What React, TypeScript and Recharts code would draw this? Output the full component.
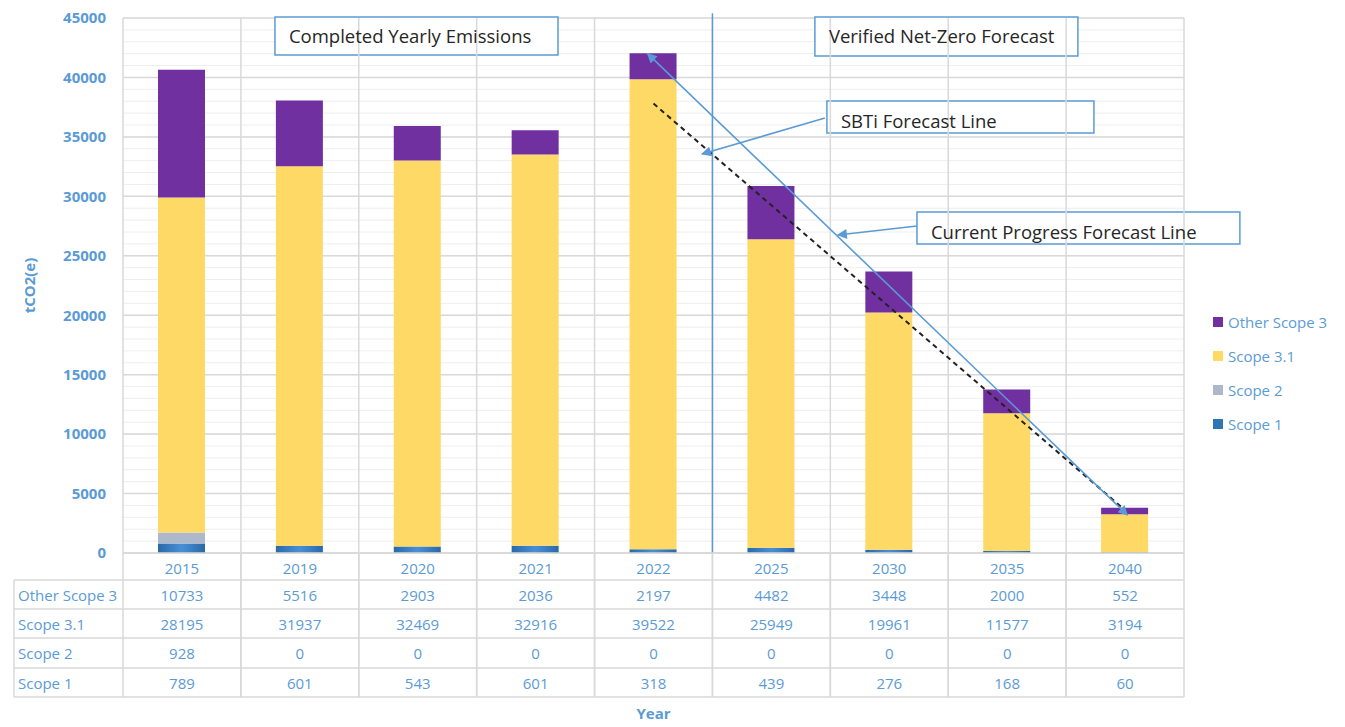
import React from 'react';
import {
  ComposedChart,
  Bar,
  XAxis,
  YAxis,
  CartesianGrid,
  ReferenceLine,
  ReferenceArea,
  Legend,
} from 'recharts';

// ---------- data ----------
const years = ['2015', '2019', '2020', '2021', '2022', '2025', '2030', '2035', '2040'];
const scope1 = [789, 601, 543, 601, 318, 439, 276, 168, 60];
const scope2 = [928, 0, 0, 0, 0, 0, 0, 0, 0];
const scope31 = [28195, 31937, 32469, 32916, 39522, 25949, 19961, 11577, 3194];
const otherScope3 = [10733, 5516, 2903, 2036, 2197, 4482, 3448, 2000, 552];
const yTicks = [0, 5000, 10000, 15000, 20000, 25000, 30000, 35000, 40000, 45000];
const minorTicks = Array.from({ length: 46 }, (_, i) => i * 1000);
const boundaries = [0, 1, 2, 3, 4, 5, 6, 7, 8, 9];

const seriesNames = ['Scope 1', 'Scope 2', 'Scope 3.1', 'Other Scope 3'];
const seriesKeys = ['s1', 's2', 's31', 'o3'];
const legendOrder = ['Other Scope 3', 'Scope 3.1', 'Scope 2', 'Scope 1'];
const tableRows = [
  { name: 'Other Scope 3', values: otherScope3 },
  { name: 'Scope 3.1', values: scope31 },
  { name: 'Scope 2', values: scope2 },
  { name: 'Scope 1', values: scope1 },
];

const data = years.map((y, i) => ({
  year: y,
  pos: i + 0.5,
  s1: scope1[i],
  s2: scope2[i],
  s31: scope31[i],
  o3: otherScope3[i],
}));

// ---------- styling ----------
const BLUE_TEXT = '#5b9bd5';
const GRID = '#d9d9d9';
const COLORS: Record<string, string> = {
  'Scope 1': '#2e75b6',
  'Scope 2': '#adb9ca',
  'Scope 3.1': '#ffd966',
  'Other Scope 3': '#7030a0',
};
const FILLS: Record<string, string> = {
  'Scope 1': 'url(#scope1Grad)',
  'Scope 2': '#adb9ca',
  'Scope 3.1': '#ffd966',
  'Other Scope 3': '#7030a0',
};

const CHART_W = 1330;
const CHART_H = 719;
const PLOT_LEFT = 115;
const PLOT_RIGHT = 1176;
const PLOT_BOTTOM = 545;
const COL_W = (PLOT_RIGHT - PLOT_LEFT) / years.length;
const TABLE_LEFT = 6;
const HEADER_BOTTOM = 572;
const ROW_LINES = [572, 601, 630, 660, 689];

const TableTick = (props: any) => {
  const { x, payload, index } = props;
  const left = x - COL_W / 2;
  const right = x + COL_W / 2;
  const i = years.indexOf(String(payload.value));
  return (
    <g>
      <line x1={left} y1={PLOT_BOTTOM} x2={left} y2={ROW_LINES[4]} stroke={GRID} strokeWidth={1.5} />
      <line x1={right} y1={PLOT_BOTTOM} x2={right} y2={ROW_LINES[4]} stroke={GRID} strokeWidth={1.5} />
      {ROW_LINES.map((ly) => (
        <line key={ly} x1={left} y1={ly} x2={right} y2={ly} stroke={GRID} strokeWidth={1.5} />
      ))}
      <text x={x} y={(PLOT_BOTTOM + HEADER_BOTTOM) / 2 + 1} textAnchor="middle" dominantBaseline="central" fill={BLUE_TEXT} fontSize={15}>
        {payload.value}
      </text>
      {tableRows.map((r, ri) => (
        <text
          key={r.name}
          x={x}
          y={(ROW_LINES[ri] + ROW_LINES[ri + 1]) / 2}
          textAnchor="middle"
          dominantBaseline="central"
          fill={BLUE_TEXT}
          fontSize={15}
        >
          {r.values[i]}
        </text>
      ))}
      {i === 0 && (
        <g>
          <line x1={TABLE_LEFT} y1={ROW_LINES[0]} x2={TABLE_LEFT} y2={ROW_LINES[4]} stroke={GRID} strokeWidth={1.5} />
          {ROW_LINES.map((ly) => (
            <line key={'l' + ly} x1={TABLE_LEFT} y1={ly} x2={left} y2={ly} stroke={GRID} strokeWidth={1.5} />
          ))}
          {tableRows.map((r, ri) => (
            <text
              key={'n' + r.name}
              x={TABLE_LEFT + 4}
              y={(ROW_LINES[ri] + ROW_LINES[ri + 1]) / 2}
              textAnchor="start"
              dominantBaseline="central"
              fill={BLUE_TEXT}
              fontSize={15}
            >
              {r.name}
            </text>
          ))}
        </g>
      )}
    </g>
  );
};

const LegendContent = () => {
  return (
    <div style={{ fontFamily: '"Open Sans", sans-serif' }}>
      {legendOrder.map((name) => (
        <div key={name} style={{ display: 'flex', alignItems: 'center', height: 34 }}>
          <div style={{ width: 10, height: 10, background: COLORS[name], marginRight: 5 }} />
          <span style={{ color: BLUE_TEXT, fontSize: 15 }}>{name}</span>
        </div>
      ))}
    </div>
  );
};

const arrowLine = (marker: { start?: string; end?: string }, stroke: string, dash?: string) => (p: any) => (
  <line
    x1={p.x1}
    y1={p.y1}
    x2={p.x2}
    y2={p.y2}
    stroke={stroke}
    strokeWidth={dash ? 2 : 1.6}
    strokeDasharray={dash}
    markerStart={marker.start}
    markerEnd={marker.end}
  />
);

const boxes = [
  { text: 'Completed Yearly Emissions', x1: 1.289, x2: 3.69, y1: 41880, y2: 45080, dy: 0 },
  { text: 'Verified Net-Zero Forecast', x1: 5.869, x2: 8.1, y1: 41800, y2: 45080, dy: 0 },
  { text: 'SBTi Forecast Line', x1: 5.971, x2: 8.236, y1: 35330, y2: 38020, dy: 4 },
  { text: 'Current Progress Forecast Line', x1: 6.735, x2: 9.474, y1: 25990, y2: 28680, dy: 4 },
];

export default function App() {
  return (
    <div style={{ width: CHART_W, height: CHART_H, fontFamily: '"Open Sans", sans-serif' }}>
      <ComposedChart
        width={CHART_W}
        height={CHART_H}
        data={data}
        margin={{ top: 10, right: CHART_W - PLOT_RIGHT, bottom: 0, left: 0 }}
        barCategoryGap={0}
      >
        <defs>
          <linearGradient id="scope1Grad" x1="0" y1="0" x2="1" y2="0">
            <stop offset="0%" stopColor="#2a69a8" />
            <stop offset="50%" stopColor="#4a8fd6" />
            <stop offset="100%" stopColor="#2a69a8" />
          </linearGradient>
          <marker id="arrowBlue" viewBox="0 0 10 10" refX="9" refY="5" markerWidth="12" markerHeight="10" markerUnits="userSpaceOnUse" orient="auto-start-reverse">
            <path d="M0,0 L10,5 L0,10 z" fill="#5b9bd5" />
          </marker>
        </defs>
        <CartesianGrid vertical={false} horizontalValues={minorTicks} stroke="#eeeeee" strokeWidth={1} />
        <CartesianGrid vertical={false} horizontalValues={yTicks} stroke={GRID} strokeWidth={1.5} />
        <XAxis
          xAxisId="cat"
          dataKey="year"
          type="category"
          height={CHART_H - PLOT_BOTTOM}
          tickLine={false}
          axisLine={{ stroke: GRID, strokeWidth: 1.5 }}
          tick={<TableTick />}
          interval={0}
          label={{ value: 'Year', position: 'insideBottom', offset: 8, fill: BLUE_TEXT, fontWeight: 700, fontSize: 15 }}
        />
        <XAxis xAxisId="num" dataKey="pos" type="number" domain={[0, 9]} allowDataOverflow hide />
        <YAxis
          width={PLOT_LEFT}
          domain={[0, 45000]}
          ticks={yTicks}
          interval={0}
          tickLine={false}
          tickSize={0}
          tickMargin={17}
          axisLine={false}
          tick={{ fill: BLUE_TEXT, fontSize: 15, fontWeight: 700 }}
          label={{
            value: 'tCO2(e)',
            angle: -90,
            position: 'insideLeft',
            offset: 22,
            style: { textAnchor: 'middle' },
            fill: BLUE_TEXT,
            fontWeight: 700,
            fontSize: 15,
          }}
        />
        {boundaries.map((b) => (
          <ReferenceLine key={'b' + b} xAxisId="num" x={b} stroke={GRID} strokeWidth={1.5} ifOverflow="visible" />
        ))}
        {seriesNames.map((n, k) => (
          <Bar
            key={n}
            xAxisId="cat"
            dataKey={seriesKeys[k]}
            name={n}
            stackId="a"
            fill={FILLS[n]}
            barSize={47}
            isAnimationActive={false}
          />
        ))}
        <ReferenceLine
          xAxisId="num"
          segment={[{ x: 5, y: 0 }, { x: 5, y: 45400 }]}
          ifOverflow="visible"
          stroke={BLUE_TEXT}
          strokeWidth={1.5}
        />
        <ReferenceLine
          xAxisId="num"
          segment={[{ x: 4.5, y: 37800 }, { x: 8.5, y: 3600 }]}
          ifOverflow="visible"
          shape={arrowLine({}, '#222222', '5 4')}
        />
        <ReferenceLine
          xAxisId="num"
          segment={[{ x: 4.45, y: 42000 }, { x: 8.52, y: 3200 }]}
          ifOverflow="visible"
          shape={arrowLine({ start: 'url(#arrowBlue)', end: 'url(#arrowBlue)' }, BLUE_TEXT)}
        />
        <ReferenceLine
          xAxisId="num"
          segment={[{ x: 5.954, y: 36590 }, { x: 4.911, y: 33560 }]}
          ifOverflow="visible"
          shape={arrowLine({ end: 'url(#arrowBlue)' }, BLUE_TEXT)}
        />
        <ReferenceLine
          xAxisId="num"
          segment={[{ x: 6.735, y: 27500 }, { x: 6.064, y: 26750 }]}
          ifOverflow="visible"
          shape={arrowLine({ end: 'url(#arrowBlue)' }, BLUE_TEXT)}
        />
        {boxes.map((b) => (
          <ReferenceArea
            key={b.text}
            xAxisId="num"
            x1={b.x1}
            x2={b.x2}
            y1={b.y1}
            y2={b.y2}
            ifOverflow="visible"
            fill="#ffffff"
            fillOpacity={1}
            stroke={BLUE_TEXT}
            strokeWidth={1.5}
            label={{ value: b.text, position: 'insideLeft', offset: 14, dy: b.dy, fill: '#262626', fontSize: 18.5 }}
          />
        ))}
        <Legend
          layout="vertical"
          align="center"
          verticalAlign="middle"
          content={<LegendContent />}
          wrapperStyle={{ left: 1205, top: 297, width: 125 }}
        />
      </ComposedChart>
    </div>
  );
}
